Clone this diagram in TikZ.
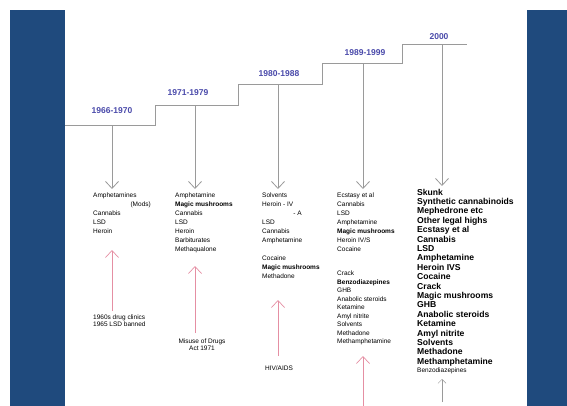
\documentclass[tikz,border=0pt]{standalone}
\usepackage{fontspec}
\setmainfont{Liberation Sans}
\usetikzlibrary{arrows.meta}
\definecolor{sidebar}{HTML}{1F4A7D}
\definecolor{yearblue}{HTML}{4A4AAA}
\definecolor{linegray}{HTML}{9A9A9A}
\definecolor{pinkred}{HTML}{E58FA3}
\tikzset{
  drug/.style={anchor=base west, font=\fontsize{6.5}{7}\selectfont, inner sep=0pt},
  bigdrug/.style={anchor=base west, font=\fontsize{8.6}{9}\selectfont\bfseries, inner sep=0pt},
  year/.style={font=\fontsize{8.5}{9}\selectfont\bfseries, text=yearblue, inner sep=0pt},
  downarrow/.style={draw=linegray, line width=0.8pt, -{Straight Barb[length=7pt,width=13pt]}},
  uparrow/.style={draw=pinkred, line width=0.7pt, -{Straight Barb[length=7pt,width=13pt]}},
  smallup/.style={draw=linegray, line width=0.5pt, -{Straight Barb[length=4pt,width=8pt]}},
  stair/.style={draw=linegray, line width=1pt},
  note/.style={font=\fontsize{6.5}{7}\selectfont, inner sep=0pt, align=left},
}
\begin{document}
\begin{tikzpicture}[x=1pt,y=-1pt]
\useasboundingbox (0,0) rectangle (567,406);
% sidebars
\fill[sidebar] (10,10) rectangle (65,406);
\fill[sidebar] (527,10) rectangle (567,406);

% staircase
\coordinate (s0) at (65,126);
\coordinate (s1) at (155,126);
\coordinate (s2) at (155,106);
\coordinate (s3) at (238,106);
\coordinate (s4) at (238,85);
\coordinate (s5) at (322,85);
\coordinate (s6) at (322,64);
\coordinate (s7) at (402,64);
\coordinate (s8) at (402,45);
\coordinate (s9) at (467,45);
\draw[stair] (s0) -- (s1) -- (s2) -- (s3) -- (s4) -- (s5) -- (s6) -- (s7) -- (s8) -- (s9);

% year labels
\node[year] (y1) at (112,111) {1966-1970};
\node[year] (y2) at (188,93) {1971-1979};
\node[year] (y3) at (279,74) {1980-1988};
\node[year] (y4) at (365,53) {1989-1999};
\node[year] (y5) at (439,37) {2000};

% down arrows
\coordinate (d1a) at (112,126); \coordinate (d1b) at (112,189);
\coordinate (d2a) at (195,106); \coordinate (d2b) at (195,189);
\coordinate (d3a) at (278,85);  \coordinate (d3b) at (278,189);
\coordinate (d4a) at (363,64);  \coordinate (d4b) at (363,189);
\coordinate (d5a) at (442,45);  \coordinate (d5b) at (442,186);
\foreach \k in {1,...,5} \draw[downarrow] (d\k a) -- (d\k b);

% column 1
\foreach \t [count=\i] in {Amphetamines, , Cannabis, LSD, Heroin}
  \node[drug] (a\i) at (93,188.5+9*\i) {\t};
\node[drug, anchor=base east] (amods) at (151,206.5) {(Mods)};

% column 2
\foreach \t [count=\i] in {Amphetamine, \textbf{Magic mushrooms}, Cannabis, LSD, Heroin, Barbiturates, Methaqualone}
  \node[drug] (b\i) at (175,188.5+9*\i) {\t};

% column 3
\foreach \t [count=\i] in {Solvents, Heroin - IV, , LSD, Cannabis, Amphetamine, , Cocaine, \textbf{Magic mushrooms}, Methadone}
  \node[drug] (c\i) at (262,188.5+9*\i) {\t};
\node[drug, anchor=base east] (cA) at (302,215.5) {- A};

% column 4
\foreach \t [count=\i] in {Ecstasy et al, Cannabis, LSD, Amphetamine, \textbf{Magic mushrooms}, Heroin IV/S, Cocaine}
  \node[drug] (e\i) at (337,188.5+9*\i) {\t};
\foreach \t [count=\i] in {Crack, \textbf{Benzodiazepines}, GHB, Anabolic steroids, Ketamine, Amyl nitrite, Solvents, Methadone, Methamphetamine}
  \node[drug] (g\i) at (337,267+8.5*\i) {\t};

% column 5
\foreach \t [count=\i] in {Skunk, Synthetic cannabinoids, Mephedrone etc, Other legal highs, Ecstasy et al, Cannabis, LSD, Amphetamine, Heroin IVS, Cocaine, Crack, Magic mushrooms, GHB, Anabolic steroids, Ketamine, Amyl nitrite, Solvents, Methadone, Methamphetamine}
  \node[bigdrug] (f\i) at (417,185.7+9.4*\i) {\t};
\node[drug] (f20) at (417,372.5) {Benzodiazepines};

% upward (pink) arrows and notes
\coordinate (u1a) at (112,311); \coordinate (u1b) at (112,250);
\coordinate (u2a) at (195,333); \coordinate (u2b) at (195,266);
\coordinate (u3a) at (278,356); \coordinate (u3b) at (278,300);
\coordinate (u4a) at (363,406); \coordinate (u4b) at (363,356);
\foreach \k in {1,...,4} \draw[uparrow] (u\k a) -- (u\k b);
\coordinate (u5a) at (442,402); \coordinate (u5b) at (442,379);
\draw[smallup] (u5a) -- (u5b);

\node[note, anchor=north west] (n1) at (93,315) {1960s drug clinics\\1965 LSD banned};
\node[note, align=center, anchor=north] (n2) at (202,339) {Misuse of Drugs\\Act 1971};
\node[note, anchor=north] (n3) at (279,366) {HIV/AIDS};
\end{tikzpicture}
\end{document}
